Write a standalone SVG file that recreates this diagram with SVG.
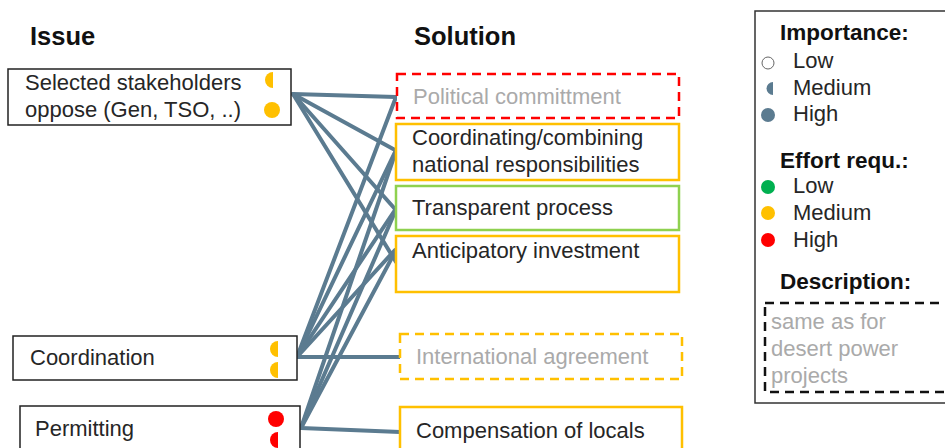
<svg xmlns="http://www.w3.org/2000/svg" width="945" height="448" viewBox="0 0 945 448">
<style>
text{font-family:"Liberation Sans",Arial,sans-serif;font-size:22px;fill:#262626}
.h{font-weight:bold;font-size:25.5px;fill:#111}
.lh{font-weight:bold;font-size:22.5px;fill:#111}
.g{fill:#aaaaaa}
.ib{fill:#fff;stroke:#222;stroke-width:1.5}
.so{fill:#fff;stroke:#ffc000;stroke-width:2.5}
.sg{fill:#fff;stroke:#8fd14f;stroke-width:2.5}
.dr{fill:#fff;stroke:#ff0000;stroke-width:2.5;stroke-dasharray:9 6}
.do{fill:#fff;stroke:#ffc000;stroke-width:2.5;stroke-dasharray:9 6}
.c line{stroke:#5b7b90;stroke-width:4;stroke-linecap:round}
</style>
<text class="h" x="30" y="45">Issue</text>
<text class="h" x="414" y="45">Solution</text>
<g id="connectors" class="c">
<line x1="293" y1="94" x2="396" y2="97"/>
<line x1="293" y1="94" x2="395" y2="150"/>
<line x1="293" y1="94" x2="395" y2="209"/>
<line x1="293" y1="94" x2="396" y2="262"/>
<line x1="297" y1="357" x2="396" y2="97"/>
<line x1="297" y1="357" x2="395" y2="152"/>
<line x1="297" y1="357" x2="395" y2="210"/>
<line x1="297" y1="357" x2="395" y2="250"/>
<line x1="297" y1="357" x2="400" y2="357"/>
<line x1="301" y1="428" x2="395" y2="154"/>
<line x1="301" y1="428" x2="395" y2="212"/>
<line x1="301" y1="428" x2="395" y2="252"/>
<line x1="301" y1="428" x2="400" y2="432"/>
</g>
<g id="issue-stakeholders">
<rect class="ib" x="8" y="69" width="283" height="56"/>
<text x="25" y="90">Selected stakeholders</text>
<text x="25" y="117">oppose (Gen, TSO, ..)</text>
<path d="M273,72 A8,8 0 0 0 273,88 Z" fill="#ffc000"/>
<circle cx="272" cy="110" r="8" fill="#ffc000"/>
</g>
<g id="issue-coordination">
<rect class="ib" x="13" y="336" width="284" height="44"/>
<text x="30" y="365">Coordination</text>
<path d="M278,341 A8,8 0 0 0 278,357 Z" fill="#ffc000"/>
<path d="M278,362 A8,8 0 0 0 278,378 Z" fill="#ffc000"/>
</g>
<g id="issue-permitting">
<rect class="ib" x="20" y="406" width="280" height="60"/>
<text x="35" y="436">Permitting</text>
<circle cx="276" cy="419" r="8" fill="#ff0000"/>
<path d="M278,432 A8,8 0 0 0 278,448 Z" fill="#ff0000"/>
</g>
<g id="sol-political">
<rect class="dr" x="397" y="74" width="282" height="44"/>
<text class="g" x="413" y="104">Political committment</text>
</g>
<g id="sol-coordinating">
<rect class="so" x="396" y="124" width="283" height="56"/>
<text x="412" y="145">Coordinating/combining</text>
<text x="412" y="172">national responsibilities</text>
</g>
<g id="sol-transparent">
<rect class="sg" x="396" y="186" width="283" height="44"/>
<text x="412" y="215">Transparent process</text>
</g>
<g id="sol-anticipatory">
<rect class="so" x="396" y="236" width="283" height="56"/>
<text x="412" y="258">Anticipatory investment</text>
</g>
<g id="sol-international">
<rect class="do" x="400" y="334" width="282" height="45"/>
<text class="g" x="416" y="364">International agreement</text>
</g>
<g id="sol-compensation">
<rect class="so" x="400" y="407" width="282" height="60"/>
<text x="416" y="438">Compensation of locals</text>
</g>
<g id="legend">
<rect x="755" y="11" width="200" height="392" fill="#fff" stroke="#333" stroke-width="1.5"/>
<text class="lh" x="780" y="40">Importance:</text>
<circle cx="768" cy="63" r="6" fill="#fff" stroke="#666" stroke-width="1"/>
<text x="793" y="68">Low</text>
<path d="M773,82 A6.5,6.5 0 0 0 773,95 Z" fill="#5b7b90"/>
<text x="793" y="95">Medium</text>
<circle cx="768" cy="115" r="7" fill="#5b7b90"/>
<text x="793" y="121">High</text>
<text class="lh" x="780" y="168">Effort requ.:</text>
<circle cx="768" cy="187" r="7" fill="#00b050"/>
<text x="793" y="193">Low</text>
<circle cx="768" cy="213" r="7" fill="#ffc000"/>
<text x="793" y="220">Medium</text>
<circle cx="768" cy="240" r="7" fill="#ff0000"/>
<text x="793" y="247">High</text>
<text class="lh" x="780" y="289">Description:</text>
<rect x="765" y="303" width="195" height="89" fill="none" stroke="#111" stroke-width="2.5" stroke-dasharray="9 6"/>
<text class="g" x="771" y="329">same as for</text>
<text class="g" x="771" y="356">desert power</text>
<text class="g" x="771" y="383">projects</text>
</g>
</svg>
